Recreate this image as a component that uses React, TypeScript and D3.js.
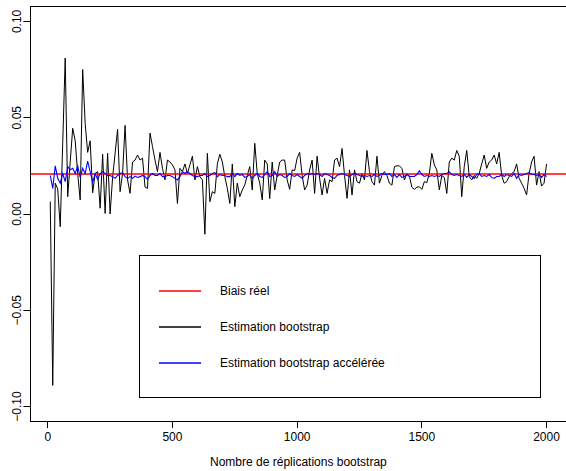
import React from "react";
import * as d3 from "d3";

const xValues: number[] = Array.from({ length: 200 }, (_, i) => (i + 1) * 10);

const bootstrap: number[] = [
  0.0065, -0.089, 0.016, 0.013, -0.0066, 0.037, 0.081, 0.009, 0.027, 0.0445,
  0.038, 0.021, 0.0073, 0.075, 0.047, 0.032, 0.038, 0.011, 0.021, 0.022,
  0.003, 0.031, 0.0003, 0.0315, 0.0, 0.019, 0.0315, 0.044, 0.0116, 0.021,
  0.046, 0.0177, 0.0107, 0.027, 0.028, 0.0306, 0.028, 0.029, 0.014, 0.0133,
  0.042, 0.035, 0.028, 0.022, 0.032, 0.0237, 0.0177, 0.028, 0.027, 0.0255,
  0.023, 0.0055, 0.0237, 0.022, 0.026, 0.021, 0.0255, 0.03, 0.0177, 0.0246,
  0.0194, 0.0177, -0.0105, 0.0315, 0.0064, 0.0116, 0.0107, 0.026, 0.031, 0.027,
  0.0194, 0.0133, 0.0055, 0.026, 0.0038, 0.016, 0.009, 0.0125, 0.015, 0.02,
  0.0246, 0.0125, 0.0367, 0.021, 0.016, 0.0073, 0.028, 0.026, 0.008, 0.027,
  0.0125, 0.02, 0.027, 0.028, 0.028, 0.0177, 0.0128, 0.0229, 0.0225, 0.029,
  0.032, 0.02, 0.0125, 0.015, 0.0229, 0.028, 0.0107, 0.03, 0.0185, 0.0099,
  0.0185, 0.0107, 0.0177, 0.0168, 0.028, 0.029, 0.0246, 0.034, 0.02, 0.0081,
  0.0229, 0.0099, 0.0229, 0.0168, 0.016, 0.021, 0.0177, 0.033, 0.022, 0.0168,
  0.015, 0.03, 0.016, 0.02, 0.022, 0.02, 0.016, 0.015, 0.0246, 0.025,
  0.025, 0.0237, 0.0177, 0.021, 0.0197, 0.0139, 0.0128, 0.0139, 0.0142, 0.0128,
  0.0168, 0.0163, 0.021, 0.0315, 0.0255, 0.0229, 0.0125, 0.02, 0.019, 0.0107,
  0.027, 0.029, 0.028, 0.033, 0.03, 0.009, 0.0246, 0.033, 0.0194, 0.0177,
  0.02, 0.0185, 0.021, 0.026, 0.0306, 0.0237, 0.027, 0.028, 0.0306, 0.026,
  0.032, 0.02, 0.016, 0.0168, 0.0194, 0.021, 0.022, 0.026, 0.0185, 0.016,
  0.0133, 0.0099, 0.021, 0.027, 0.03, 0.015, 0.022, 0.0145, 0.016, 0.026,
];

const accelerated: number[] = [
  0.02, 0.0133, 0.025, 0.0185, 0.016, 0.021, 0.0168, 0.0245, 0.023, 0.0237,
  0.021, 0.025, 0.019, 0.0237, 0.021, 0.0275, 0.022, 0.0165, 0.021, 0.018,
  0.021, 0.022, 0.021, 0.02, 0.02, 0.0194, 0.0185, 0.02, 0.021, 0.0215,
  0.0194, 0.0185, 0.0194, 0.0185, 0.0197, 0.019, 0.0194, 0.02, 0.0194, 0.018,
  0.02, 0.021, 0.02, 0.02, 0.021, 0.0194, 0.0194, 0.02, 0.02, 0.0194,
  0.0185, 0.0177, 0.0194, 0.022, 0.021, 0.022, 0.021, 0.02, 0.0194, 0.0194,
  0.02, 0.02, 0.021, 0.0194, 0.02, 0.021, 0.0215, 0.0194, 0.0205, 0.02,
  0.02, 0.0194, 0.0194, 0.021, 0.0194, 0.021, 0.02, 0.0205, 0.019, 0.0195,
  0.0205, 0.0185, 0.02, 0.021, 0.0195, 0.019, 0.0205, 0.022, 0.0195, 0.02,
  0.022, 0.0195, 0.0205, 0.02, 0.019, 0.0195, 0.021, 0.02, 0.0195, 0.0205,
  0.0195, 0.0185, 0.02, 0.021, 0.0205, 0.021, 0.0205, 0.021, 0.0205, 0.0195,
  0.021, 0.0205, 0.02, 0.019, 0.0185, 0.02, 0.0205, 0.021, 0.0205, 0.02,
  0.0195, 0.0205, 0.021, 0.0205, 0.02, 0.0195, 0.02, 0.0195, 0.02, 0.0195,
  0.0205, 0.0195, 0.02, 0.021, 0.0205, 0.0205, 0.021, 0.0195, 0.0205, 0.019,
  0.0205, 0.019, 0.0195, 0.0205, 0.0195, 0.0195, 0.0195, 0.0205, 0.0225, 0.0205,
  0.0195, 0.02, 0.0195, 0.02, 0.0195, 0.02, 0.0195, 0.0205, 0.021, 0.021,
  0.022, 0.0205, 0.02, 0.0205, 0.02, 0.0195, 0.0205, 0.019, 0.0205, 0.0195,
  0.0185, 0.0205, 0.021, 0.0195, 0.02, 0.0195, 0.0205, 0.019, 0.0185, 0.0195,
  0.0195, 0.0205, 0.0195, 0.0205, 0.02, 0.0195, 0.021, 0.0185, 0.0205, 0.02,
  0.0205, 0.021, 0.0215, 0.0205, 0.0205, 0.02, 0.0205, 0.019, 0.0205, 0.0195,
];

const trueBias = 0.021;

const xTicks: number[] = [0, 500, 1000, 1500, 2000];
const yTicks: number[] = [-0.1, -0.05, 0, 0.05, 0.1];
const yTickLabels: string[] = ["-0.10", "-0.05", "0.00", "0.05", "0.10"];

const legendLabels: string[] = [
  "Biais réel",
  "Estimation bootstrap",
  "Estimation bootstrap accélérée",
];
const legendColors: string[] = ["#ff0000", "#000000", "#0000ff"];

const xLabel = "Nombre de réplications bootstrap";

const snap = (v: number) => Math.floor(v) + 0.5;

export default function App() {
  const W = 566;
  const H = 471;
  const left = 30.4;
  const right = 566.4;
  const top = 6;
  const bottom = 422;

  const x = d3.scaleLinear().domain([-69.6, 2079.6]).range([left, right]);
  const y = d3.scaleLinear().domain([-0.108, 0.108]).range([bottom, top]);

  const line = d3
    .line<number>()
    .x((_, i) => x(xValues[i]))
    .y((d) => y(d));

  const font = "'Liberation Sans', Arial, Helvetica, sans-serif";
  const redY = Math.round(y(trueBias));

  return (
    <svg
      width={W}
      height={H}
      style={{ position: "absolute", left: 0, top: 0, background: "#fff" }}
      fontFamily={font}
    >
      <rect x={0} y={0} width={W} height={H} fill="#fff" />
      {/* data lines */}
      <path d={line(bootstrap) || ""} fill="none" stroke="#000" strokeWidth={1} />
      <line x1={left} x2={right} y1={redY} y2={redY} stroke="#ff0000" strokeWidth={1.6} />
      <path d={line(accelerated) || ""} fill="none" stroke="#0000ff" strokeWidth={1.1} />

      {/* box */}
      <rect
        x={snap(left)}
        y={snap(top)}
        width={snap(right) - snap(left)}
        height={snap(bottom) - snap(top) - 1}
        fill="none"
        stroke="#000"
        strokeWidth={1}
      />

      {/* x axis */}
      {xTicks.map((t) => (
        <g key={"xt" + t}>
          <line
            x1={snap(x(t))}
            x2={snap(x(t))}
            y1={bottom - 1}
            y2={bottom + 6}
            stroke="#000"
          />
          <text x={x(t)} y={bottom + 19} textAnchor="middle" fontSize={12}>
            {t}
          </text>
        </g>
      ))}
      <text x={(left + right) / 2} y={466} textAnchor="middle" fontSize={12}>
        {xLabel}
      </text>

      {/* y axis */}
      {yTicks.map((t, i) => (
        <g key={"yt" + i}>
          <line
            x1={left - 7}
            x2={snap(left)}
            y1={snap(y(t))}
            y2={snap(y(t))}
            stroke="#000"
          />
          <text
            transform={`translate(${20.5},${y(t)}) rotate(-90)`}
            textAnchor="middle"
            fontSize={12}
          >
            {yTickLabels[i].replace("-", "\u2212")}
          </text>
        </g>
      ))}

      {/* legend */}
      <rect x={139.5} y={255.5} width={401} height={142} fill="#fff" stroke="#000" />
      {legendLabels.map((lab, i) => {
        const ly = 291 + i * 36;
        return (
          <g key={"lg" + i}>
            <line x1={159} x2={201} y1={ly} y2={ly} stroke={legendColors[i]} strokeWidth={1.6} />
            <text x={220} y={ly + 4} fontSize={12}>
              {lab}
            </text>
          </g>
        );
      })}
    </svg>
  );
}
